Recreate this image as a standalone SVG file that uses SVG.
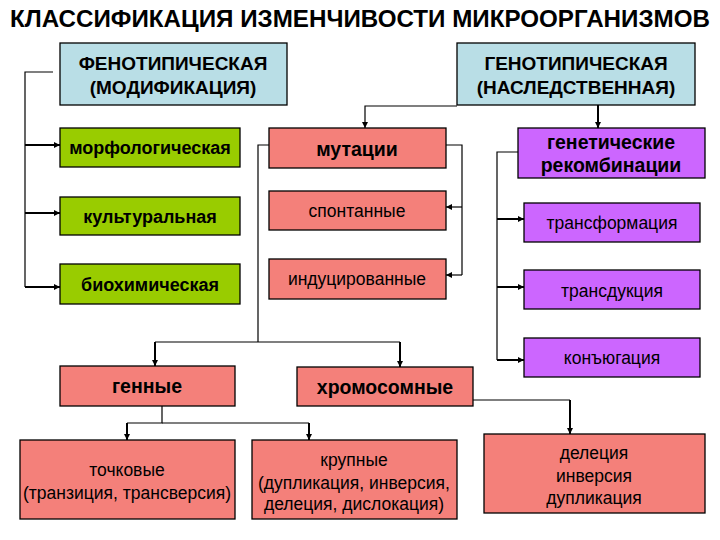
<svg xmlns="http://www.w3.org/2000/svg" width="720" height="540" viewBox="0 0 720 540">
<defs>
<marker id="ah" viewBox="0 0 10 10" refX="10" refY="5" markerWidth="6" markerHeight="6" markerUnits="userSpaceOnUse" orient="auto">
<path d="M0,0 L10,5 L0,10 z" fill="#000"/>
</marker>
<style>
.box{stroke:#000;stroke-width:1.3}
.blue{fill:#b9dee6}
.green{fill:#99cc00}
.red{fill:#f4807a}
.purple{fill:#cc66ff}
text{font-family:"Liberation Sans",Arial,sans-serif;text-anchor:middle;fill:#000}
.h{font-weight:bold;font-size:19px}
.b{font-weight:bold;font-size:18px}
.bb{font-weight:bold;font-size:19.5px}
.r{font-size:17.5px}
.ln{fill:none;stroke:#000;stroke-width:1.2}
.lb{fill:none;stroke:#000;stroke-width:2}
</style>
</defs>
<rect width="720" height="540" fill="#fff"/>
<text x="360" y="27" style="font-weight:bold;font-size:23px" textLength="700" lengthAdjust="spacingAndGlyphs">КЛАССИФИКАЦИЯ ИЗМЕНЧИВОСТИ МИКРООРГАНИЗМОВ</text>

<g id="connectors">
<path class="ln" d="M53,72 H25 V287"/>
<path class="lb" d="M25,145 H60" marker-end="url(#ah)"/>
<path class="lb" d="M25,213 H60" marker-end="url(#ah)"/>
<path class="lb" d="M25,287 H60" marker-end="url(#ah)"/>
<path class="ln" d="M457,106 H365 V128" marker-end="url(#ah)"/>
<path class="lb" d="M598,105 V128" marker-end="url(#ah)"/>
<path class="ln" d="M446,145 H462 V275"/>
<path class="ln" d="M462,207 H446" marker-end="url(#ah)"/>
<path class="ln" d="M462,275 H446" marker-end="url(#ah)"/>
<path class="ln" d="M269,145 H258 V342"/>
<path class="ln" d="M155,342 H400"/>
<path class="lb" d="M155,342 V366" marker-end="url(#ah)"/>
<path class="lb" d="M400,342 V367" marker-end="url(#ah)"/>
<path class="ln" d="M518,152 H497 V360"/>
<path class="lb" d="M497,219 H524" marker-end="url(#ah)"/>
<path class="lb" d="M497,287 H524" marker-end="url(#ah)"/>
<path class="lb" d="M497,360 H524" marker-end="url(#ah)"/>
<path class="ln" d="M162,406 V423 H127"/>
<path class="ln" d="M162,423 H309"/>
<path class="lb" d="M127,423 V440" marker-end="url(#ah)"/>
<path class="lb" d="M309,423 V440" marker-end="url(#ah)"/>
<path class="ln" d="M473,400 H570"/>
<path class="lb" d="M570,400 V434" marker-end="url(#ah)"/>
</g>

<g id="pheno"><rect class="box blue" x="60" y="43" width="227" height="62"/>
<text class="h" x="173" y="70">ФЕНОТИПИЧЕСКАЯ</text><text class="h" x="173" y="94">(МОДИФИКАЦИЯ)</text></g>
<g id="geno"><rect class="box blue" x="457" y="43" width="238" height="62"/>
<text class="h" x="576" y="70">ГЕНОТИПИЧЕСКАЯ</text><text class="h" x="576" y="94">(НАСЛЕДСТВЕННАЯ)</text></g>

<g id="morph"><rect class="box green" x="60" y="128" width="180" height="39"/><text class="b" x="150" y="154">морфологическая</text></g>
<g id="cult"><rect class="box green" x="60" y="197" width="180" height="38"/><text class="b" x="150" y="223">культуральная</text></g>
<g id="bio"><rect class="box green" x="60" y="264" width="180" height="40"/><text class="b" x="150" y="291">биохимическая</text></g>

<g id="mut"><rect class="box red" x="269" y="128" width="177" height="40"/><text class="bb" x="357" y="156">мутации</text></g>
<g id="spont"><rect class="box red" x="269" y="191" width="177" height="39"/><text class="r" x="357" y="217">спонтанные</text></g>
<g id="induc"><rect class="box red" x="269" y="259" width="177" height="40"/><text class="r" x="357" y="285">индуцированные</text></g>

<g id="recomb"><rect class="box purple" x="518" y="128" width="187" height="50"/>
<text class="bb" x="611" y="149">генетические</text><text class="bb" x="611" y="172">рекомбинации</text></g>
<g id="transf"><rect class="box purple" x="524" y="203" width="176" height="39"/><text class="r" x="612" y="229">трансформация</text></g>
<g id="transd"><rect class="box purple" x="524" y="270" width="176" height="39"/><text class="r" x="612" y="297">трансдукция</text></g>
<g id="conj"><rect class="box purple" x="524" y="338" width="176" height="39"/><text class="r" x="612" y="364">конъюгация</text></g>

<g id="gene"><rect class="box red" x="60" y="366" width="175" height="40"/><text class="bb" x="147" y="393">генные</text></g>
<g id="chrom"><rect class="box red" x="297" y="367" width="176" height="39"/><text class="bb" x="385" y="394">хромосомные</text></g>

<g id="point"><rect class="box red" x="20" y="440" width="215" height="79"/>
<text class="r" x="127" y="476">точковые</text><text class="r" x="127" y="499">(транзиция, трансверсия)</text></g>
<g id="large"><rect class="box red" x="252" y="440" width="205" height="79"/>
<text class="r" x="354" y="466">крупные</text><text class="r" x="354" y="489">(дупликация, инверсия,</text><text class="r" x="354" y="510">делеция, дислокация)</text></g>
<g id="del"><rect class="box red" x="484" y="434" width="221" height="79"/>
<text class="r" x="594" y="459">делеция</text><text class="r" x="594" y="482">инверсия</text><text class="r" x="594" y="504">дупликация</text></g>
</svg>
